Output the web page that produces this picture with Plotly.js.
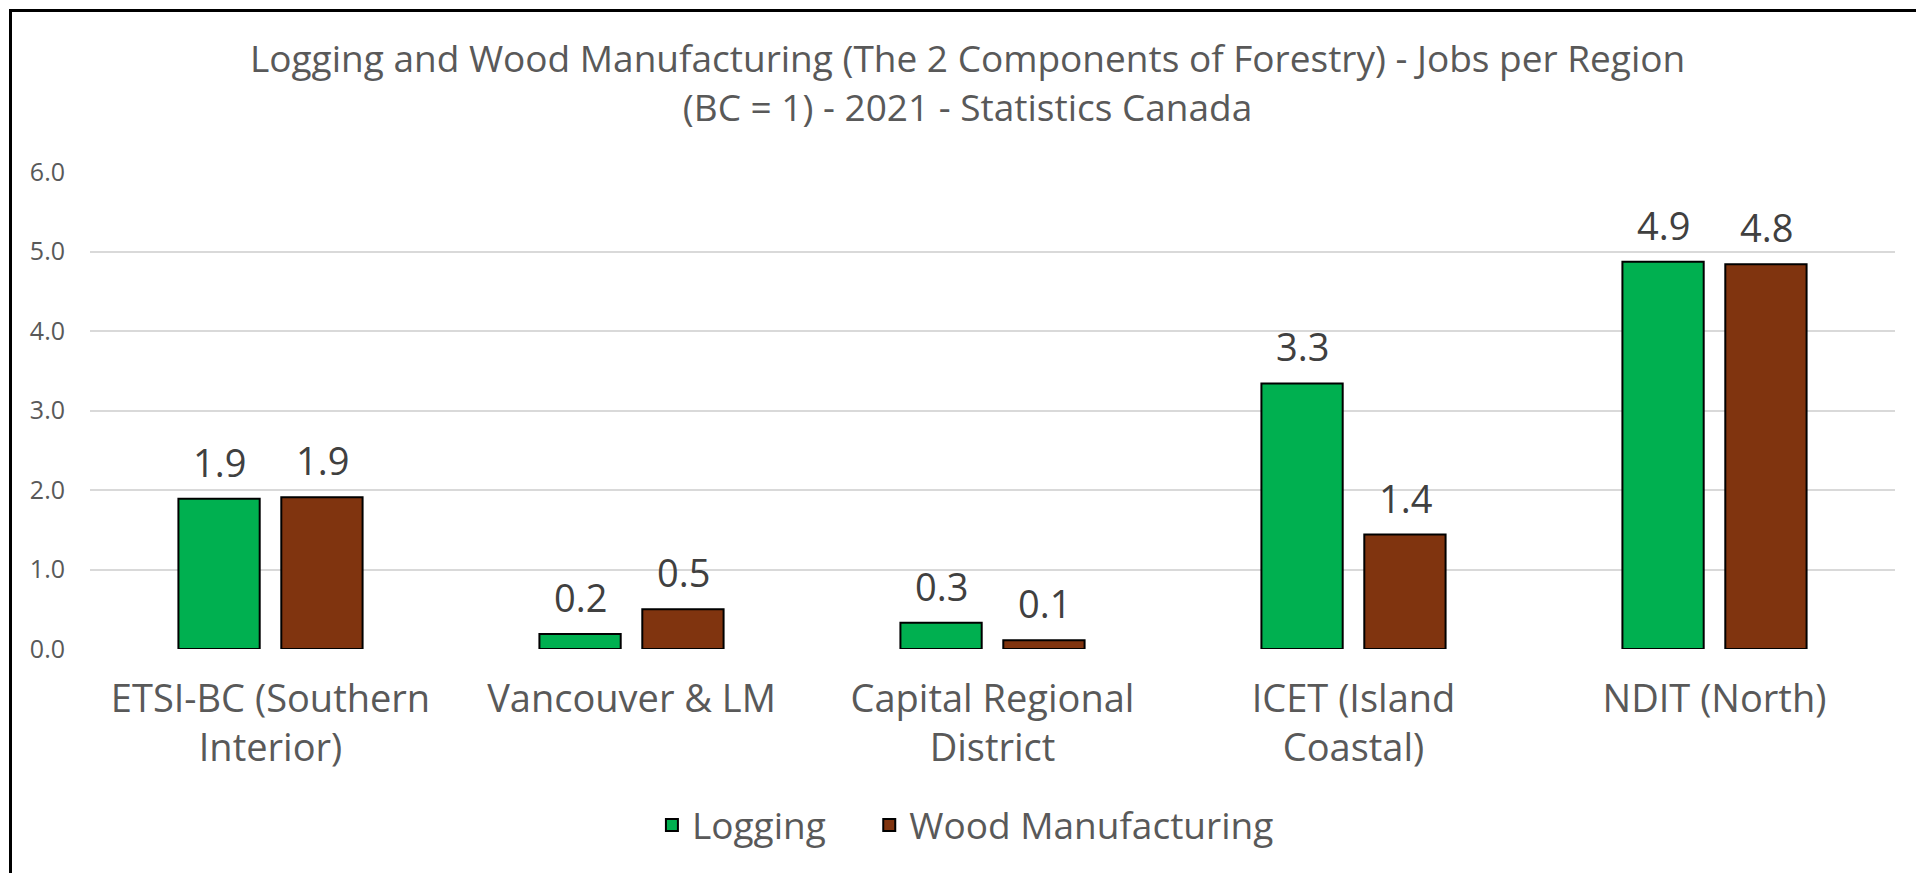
<!DOCTYPE html>
<html>
<head>
<meta charset="utf-8">
<script src="https://cdn.plot.ly/plotly-3.0.1.min.js"></script>
<style>
  html, body { margin: 0; padding: 0; background: #fff; overflow: hidden; }
  #wrap { position: relative; width: 1916px; height: 873px; }
  #chart { width: 1916px; height: 873px; }
  #frame { position: absolute; left: 9px; top: 9px; width: 1950px; height: 900px;
           border-left: 3px solid #000; border-top: 3px solid #000; pointer-events: none; }
</style>
</head>
<body>
<div id="wrap">
  <div id="chart"></div>
  <div id="frame"></div>
</div>
<script>
const regions = [
  'ETSI-BC (Southern<br>Interior)',
  'Vancouver & LM',
  'Capital Regional<br>District',
  'ICET (Island<br>Coastal)',
  'NDIT (North)'
];
const logging = [1.89, 0.19, 0.33, 3.34, 4.87];
const woodManufacturing = [1.91, 0.50, 0.11, 1.44, 4.84];

const textColor = '#595959';
const fontFamily = '"Open Sans", Roboto, sans-serif';

const traceLogging = {
  x: regions,
  y: logging,
  type: 'bar',
  name: 'Logging\u00a0\u00a0\u00a0\u00a0',
  marker: { color: '#00B050', line: { color: '#000000', width: 2 } },
  hoverinfo: 'x+y'
};

const traceWood = {
  x: regions,
  y: woodManufacturing,
  type: 'bar',
  name: 'Wood Manufacturing',
  marker: { color: '#80340F', line: { color: '#000000', width: 2 } },
  hoverinfo: 'x+y'
};

// value labels above each bar, placed through the axes
const slotShift = 51.5;
const labelFor = (values, shift) => values.map((v, i) => ({
  x: regions[i],
  y: v,
  xref: 'x',
  yref: 'y',
  text: v.toFixed(1),
  showarrow: false,
  xshift: shift,
  yshift: 9,
  yanchor: 'bottom',
  font: { family: fontFamily, size: 38, color: '#404040' }
}));

const layout = {
  width: 1916,
  height: 873,
  paper_bgcolor: 'rgba(0,0,0,0)',
  plot_bgcolor: 'rgba(0,0,0,0)',
  font: { family: fontFamily, color: textColor },
  title: {
    text: 'Logging and Wood Manufacturing (The 2 Components of Forestry) - Jobs per Region<br>(BC = 1) - 2021 - Statistics Canada',
    font: { family: fontFamily, size: 37, color: textColor },
    x: 0.505,
    xanchor: 'center',
    yref: 'container',
    y: 0.917,
    yanchor: 'middle'
  },
  margin: { l: 90, r: 21, t: 172, b: 224 },
  barmode: 'group',
  bargap: 0.43,
  bargroupgap: 0.21,
  xaxis: {
    type: 'category',
    tickfont: { family: fontFamily, size: 38, color: textColor },
    showline: false,
    ticks: '',
    ticklabelstandoff: 24
  },
  yaxis: {
    range: [0, 6],
    dtick: 1,
    tickformat: '.1f',
    tickfont: { family: fontFamily, size: 25, color: textColor },
    gridcolor: '#d9d9d9',
    gridwidth: 2,
    zeroline: false,
    showline: false,
    ticks: '',
    ticklabelstandoff: 24
  },
  showlegend: true,
  legend: {
    orientation: 'h',
    x: 0.485,
    xanchor: 'center',
    y: -0.37,
    yanchor: 'middle',
    font: { family: fontFamily, size: 37, color: textColor },
    itemclick: false
  },
  annotations: [...labelFor(logging, -slotShift), ...labelFor(woodManufacturing, slotShift)]
};

Plotly.newPlot('chart', [traceLogging, traceWood], layout, { displayModeBar: false, staticPlot: true });
</script>
</body>
</html>
